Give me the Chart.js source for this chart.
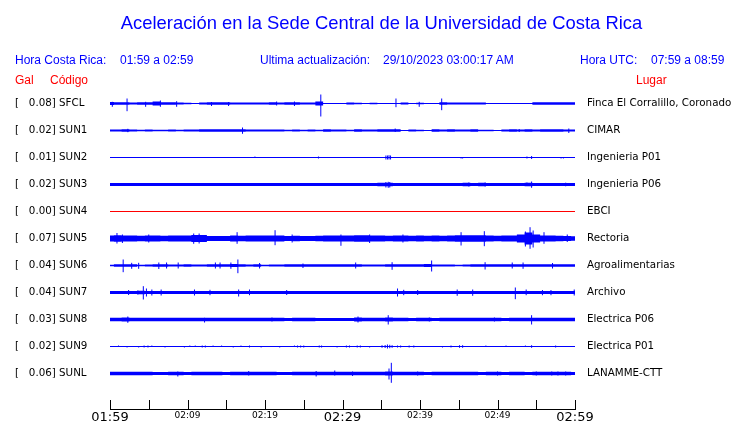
<!DOCTYPE html>
<html>
<head>
<meta charset="utf-8">
<script src="https://cdn.jsdelivr.net/npm/chart.js@4.4.0/dist/chart.umd.min.js"></script>
<style>
  body { margin: 0; background: #fff; }
  #wrap { position: relative; width: 740px; height: 423px; }
  #wrap canvas { position: absolute; left: 0; top: 0; }
  .t { position: absolute; white-space: pre; font-family: "Liberation Sans", Arial, sans-serif; line-height: 1; }
  .hdr { font-size: 12px; color: #0000ff; top: 54px; }
  .red { font-size: 12px; color: #ff0000; top: 74px; }
  #title { font-size: 18.4px; color: #0000ff; top: 13.7px; left: 0; width: 763px; text-align: center; }
</style>
</head>
<body>
<div id="wrap">
  <canvas id="seis" width="740" height="423"></canvas>
  <div class="t" id="title">Aceleración en la Sede Central de la Universidad de Costa Rica</div>
  <div class="t hdr" style="left:15px">Hora Costa Rica:</div>
  <div class="t hdr" style="left:120px">01:59 a 02:59</div>
  <div class="t hdr" style="left:260px">Ultima actualización:</div>
  <div class="t hdr" style="left:383px">29/10/2023 03:00:17 AM</div>
  <div class="t hdr" style="left:580px">Hora UTC:</div>
  <div class="t hdr" style="left:651px">07:59 a 08:59</div>
  <div class="t red" style="left:15px">Gal</div>
  <div class="t red" style="left:50px">Código</div>
  <div class="t red" style="left:636px">Lugar</div>
</div>
<script>
// stations, top to bottom
const CODES = ['SFCL','SUN1','SUN2','SUN3','SUN4','SUN5','SUN6','SUN7','SUN8','SUN9','SUNL'];
const GAL = [0.08,0.02,0.01,0.02,0.00,0.07,0.04,0.04,0.03,0.02,0.06];
const PLACES = ['Finca El Corralillo, Coronado','CIMAR','Ingenieria P01','Ingenieria P06','EBCI','Rectoria',
  'Agroalimentarias','Archivo','Electrica P06','Electrica P01','LANAMME-CTT'];

// x axis: minutes after 01:59
const TICK_MINUTES = [0,10,20,30,40,50,60];
const TICK_LABELS = ['01:59','02:09','02:19','02:29','02:39','02:49','02:59'];
const BIG_LABELS = ['01:59','02:29','02:59'];

// half width of the noise band, one value per minute (0..60)
const SFCL_ENV = [1.5,1.3,1.2,1,1.2,1.3,2,1.3,1.2,1, 0.8,0.5,1,1.2,1.2,1.3,1,1,1,1, 1,1.2,1,1.3,1.2,1,1,2,0.5,0.5,
  0.5,1,0.8,0.5,0.7,0.5,0.5,0.5,1,0.5, 0.8,0.5,0.5,1.2,1,1,1,1,1,0.5, 0.3,0.3,0.3,0.3,0.5,1.2,1.2,1.2,1.2,1.2,1.2];
const SUN1_ENV = [1,1,1.3,1,0.8,1,0.8,0.8,1,0.8, 1,1,1.3,1.3,1.3,1.3,1.2,1.3,1,1, 1,1,1,0.8,1,0.8,1,0.8,1.2,1,
  1,0.8,1.2,1,1,1.2,1.2,1.2,0.5,1, 0.8,0.5,1.2,1,1.2,1,1,1.2,0.8,0.7, 0.4,1,1.2,1,1.2,1,1.2,1.3,1.2,1,1];
const SUN2_ENV = [0,0,0,0,0,0,0,0,0,0, 0,0,0,0,0,0,0,0,0,0, 0,0,0,0,0,0,0,0,0,0,
  0,0,0,0,0,0,0,0,0,0, 0,0,0,0,0,0,0,0,0,0, 0,0,0,0,0,0,0,0,0,0,0];
const SUN3_ENV = [1.6,1.6,1.6,1.6,1.6,1.6,1.6,1.6,1.5,1.6, 1.6,1.6,1.6,1.6,1.5,1.6,1.6,1.6,1.6,1.6, 1.6,1.6,1.6,1.6,1.6,1.6,1.6,1.6,1.6,1.6,
  1.6,1.6,1.6,1.6,1.6,1.7,1.8,1.6,1.5,1.6, 1.6,1.6,1.6,1.6,1.6,1.6,1.7,1.6,1.7,1.6, 1.6,1.6,1.6,1.6,1.7,1.6,1.6,1.6,1.6,1.6,1.6];
const SUN4_ENV = [0,0,0,0,0,0,0,0,0,0, 0,0,0,0,0,0,0,0,0,0, 0,0,0,0,0,0,0,0,0,0,
  0,0,0,0,0,0,0,0,0,0, 0,0,0,0,0,0,0,0,0,0, 0,0,0,0,0,0,0,0,0,0,0];
const SUN5_ENV = [3,3.3,3,3,2.8,3,3,2.8,3,3, 3,3.5,3.5,2.6,2.5,2.5,3,2.8,3,3, 3,3,3,2.5,2.8,2.6,2.6,2.8,3,3,
  3,3,3.3,3.2,3,3,2.8,3,3,2.8, 3,2.8,3,2.8,3,3.3,3.2,3.3,3.3,3, 2.8,3,3,4,6,4,3,3,2.8,2.5,2.2];
const SUN6_ENV = [0.8,1.2,1.2,1.2,0.8,1,1.2,1.2,1,1, 1.2,1,1,1.3,1.3,1.3,1.5,1.2,1,1.2, 0.8,1,1,1.3,1.3,1.3,1.3,1.2,1.2,1.2,
  1.2,1.2,1.2,1,1,1,1.3,1.2,1.2,1.2, 1.2,1.5,1,1,1,0.8,1,1.2,1.2,1.2, 1.2,1.2,1.2,1.2,1.2,1.2,1.2,1.2,1.2,1.3,1.3];
const SUN7_ENV = [1.5,1.5,1.6,1.5,1.7,1.6,1.5,1.5,1.4,1.4, 1.5,1.4,1.5,1.5,1.4,1.5,1.6,1.5,1.5,1.4, 1.4,1.4,1.5,1.4,1.4,1.4,1.4,1.4,1.4,1.4,
  1.4,1.4,1.4,1.4,1.4,1.4,1.5,1.6,1.5,1.5, 1.4,1.4,1.4,1.4,1.5,1.4,1.5,1.4,1.4,1.4, 1.4,1.4,1.5,1.5,1.4,1.4,1.6,1.5,1.4,1.4,1.5];
const SUN8_ENV = [1.7,1.8,2,1.8,1.7,1.8,1.7,1.7,1.7,1.8, 1.7,1.8,1.8,1.7,1.7,1.8,1.7,1.7,1.7,1.7, 1.7,1.7,1.7,1.6,1.8,1.7,1.8,1.6,1.5,1.5,
  1.5,1.6,1.9,1.8,1.7,1.8,2,1.7,1.7,1.6, 1.7,1.7,1.6,1.7,1.7,1.7,1.8,1.8,1.7,1.7, 1.7,1.6,1.7,1.7,1.8,1.8,1.7,1.7,1.7,1.7,1.7];
const SUN9_ENV = [0,0,0,0,0,0,0,0,0,0, 0,0,0,0,0,0,0,0,0,0, 0,0,0,0,0,0,0,0,0,0,
  0,0,0,0,0,0,0,0,0,0, 0,0,0,0,0,0,0,0,0,0, 0,0,0,0,0,0,0,0,0,0,0];
const SUNL_ENV = [1.7,1.7,1.7,1.7,1.7,1.7,1.6,1.6,1.7,1.8, 1.6,1.7,1.7,1.7,1.7,1.6,1.7,1.8,1.7,1.7, 1.7,1.7,1.6,1.6,1.7,1.7,1.7,1.7,1.7,1.7,
  1.7,1.8,1.7,1.7,1.7,1.7,2,1.7,1.7,1.7, 1.7,1.6,1.7,1.7,1.7,1.7,1.7,1.7,1.6,1.7, 1.7,1.6,1.7,1.7,1.6,1.7,1.7,1.7,1.7,1.7,1.6];

// single peaks: [minute, up, down]
const SFCL_PEAKS = [[0.3,1.7,3.3],[2.2,5,7.7],[4.6,1.7,3.3],[6.5,3,3.3],[8.6,2.3,3.3],[13.1,1.5,2.5],[15.3,1.5,2.5],
  [21.5,2,2],[23.8,2,2.5],[27.2,9,13],[36.9,5,3.7],[39.9,1.7,3.3],[42.8,5,6.7]];
const SUN1_PEAKS = [[2.3,1.7,1.7],[17.1,3,3.3],[36.8,2,1.5],[52.8,1.5,1.5],[59.2,2,2.5]];
const SUN2_PEAKS = [[18.7,1,0],[26.9,1,1],[35.6,2,2],[35.8,2,2],[36.0,2.3,2],[36.2,2,2],[45.3,0,1],[45.5,0,1],
  [53.8,1,1],[54.4,1.5,1.5],[58.2,0,1],[58.5,0,1]];
const SUN3_PEAKS = [[35.6,2.5,3],[35.9,2.7,3.3],[36.1,2.5,3],[46.3,2,2],[48.4,2,2],[53.8,2,1.5],[54.4,3,3.3],[58.8,1.8,1.8]];
const SUN4_PEAKS = [];
const SUN5_PEAKS = [[0.9,5.5,5],[1.6,4,4.5],[5,4,4],[10.8,5,5.3],[11.5,5,5],[16.4,6.3,5.3],[21.3,8.3,6.7],[23.5,4,4],
  [29.8,4,7.3],[33.5,4,4.5],[37.8,4,4],[45.3,6.3,7],[48.3,7.3,7.7],[53.6,7,8],[54.2,11.3,10.3],[54.6,8,9],[56,6.3,5.3],[59,4,3.5]];
const SUN6_PEAKS = [[1.7,6,6.7],[2.8,2.7,3.3],[3.7,2.7,3.3],[6.3,3,3.5],[7.3,3,3],[8.8,3,3],[13.6,3,3],[14.2,3,3],
  [15.6,3,3.3],[16.5,6,7.7],[19.3,2.5,3],[24.9,2,2.5],[31.7,3,3],[36.4,3.3,4.3],[41.5,5,6],[48.4,3.3,4],[51.9,3,3],
  [53.3,3,3.3],[57.1,2.5,3]];
const SUN7_PEAKS = [[2.4,2.5,2.5],[3.6,2,2],[4.3,6.3,7],[4.7,4,4],[5.4,3,3],[6.6,3,3],[10.9,3,3],[12.9,2.7,2.7],
  [16.6,3,4],[18,3,2.7],[22.8,2.5,2.5],[37.1,4,4],[37.9,2.7,2.7],[39.7,2.5,2.5],[44.8,3,3.3],[46.8,3,3.3],[52.3,5,6.7],
  [53.7,3,2.7],[55.8,2.5,2.7],[56.9,2.5,2.7],[59.9,3,3]];
const SUN8_PEAKS = [[2.3,3,3.3],[12.2,1.7,3],[20.9,2,2],[32,3,3],[35.9,4.3,5],[41.2,2,2],[49.6,2,2],[54.4,4.3,5]];
const SUN9_PEAKS = [[1.1,1,0],[2.2,0,1],[3.7,0,1],[4.4,1,1],[4.9,1,1],[5.4,1,0],[7.1,0,1],[9.6,0,1],[10.3,1,0],[11,1,0],
  [11.9,1,1],[12.3,1,1],[13.3,1,0],[14.4,1,0],[15.9,0,1],[16.9,1,0],[18,1,1],[19.5,0,1],[21.9,0,1],[23.8,1,0],
  [24.2,1,1],[24.6,1,1],[25,1,1],[27,1,1],[27.3,1,1],[29.3,0,1],[30.5,1,1],[30.9,1,1],[31.9,1,1],[32.3,1,1],[33.5,0,1],
  [35.1,1.3,1.3],[35.5,1.5,1.5],[35.8,2,2],[36.1,1.7,1.7],[36.4,1.3,1.3],[37.1,1,1],[37.5,1,1],[38.6,1,1],[39.2,1,1],
  [42.9,0,1],[44,1,1],[45.1,1.3,1.3],[45.5,1.3,1.3],[48.5,1,0],[51.1,1,0],[53.6,1,0],[54.4,1.3,1.3],[57.5,1,1]];
const SUNL_PEAKS = [[4.4,1.5,0],[8.75,2,3],[17.9,2.5,2],[26.6,2.5,3],[29,3,2],[31.3,2,2.5],[36,5,6],[36.3,10.7,9.3],
  [39.7,2,2],[50,2,2],[55,2,2],[57,2,2],[57.8,2,2],[58.8,2,2]];

const ENVS = [SFCL_ENV,SUN1_ENV,SUN2_ENV,SUN3_ENV,SUN4_ENV,SUN5_ENV,SUN6_ENV,SUN7_ENV,SUN8_ENV,SUN9_ENV,SUNL_ENV];
const PEAKS = [SFCL_PEAKS,SUN1_PEAKS,SUN2_PEAKS,SUN3_PEAKS,SUN4_PEAKS,SUN5_PEAKS,SUN6_PEAKS,SUN7_PEAKS,SUN8_PEAKS,SUN9_PEAKS,SUNL_PEAKS];

const TRACE_GAP = 27;
const BLUE = '#0000ff', RED = '#ff0000';
const N = CODES.length;
const baseOf = i => (N - 1 - i) * TRACE_GAP;

const datasets = [];
CODES.forEach((code, i) => {
  const base = baseOf(i);
  const color = code === 'SUN4' ? RED : BLUE;
  const env = ENVS[i];
  datasets.push({ data: env.map((a, k) => ({x: k, y: base + a})), stepped: 'middle',
    borderColor: 'transparent', backgroundColor: color, fill: '+1' });
  datasets.push({ data: env.map((a, k) => ({x: k, y: base - a})), stepped: 'middle',
    borderColor: 'transparent', fill: false });
  datasets.push({ data: [{x: 0, y: base}, {x: 60, y: base}], borderColor: color, borderWidth: 1, fill: false });
  const pk = [];
  PEAKS[i].forEach(([t, up, dn]) => { pk.push({x: t, y: base - dn}, {x: t, y: base + up}, {x: t, y: null}); });
  datasets.push({ data: pk, borderColor: color, borderWidth: 1, fill: false, spanGaps: false });
});

const rowTicks = scale => { scale.ticks = CODES.map((c, i) => ({value: baseOf(i)})); };
const rowIndex = v => CODES.findIndex((c, i) => baseOf(i) === v);
// keep label overhang from shrinking the plot
const noPad = s => { s.paddingTop = 0; s.paddingBottom = 0; s.paddingLeft = 0; s.paddingRight = 0; };

// upward tick marks on the time axis
const innerTicks = {
  id: 'innerTicks',
  afterDraw(chart) {
    const xs = chart.scales.x, ctx = chart.ctx, b = chart.chartArea.bottom;
    ctx.save();
    ctx.strokeStyle = '#000';
    ctx.lineWidth = 1;
    ctx.beginPath();
    xs.ticks.forEach(t => {
      const px = Math.round(xs.getPixelForValue(t.value)) + 0.5;
      ctx.moveTo(px, b);
      ctx.lineTo(px, b - 9);
    });
    ctx.stroke();
    ctx.restore();
  }
};

new Chart(document.getElementById('seis'), {
  type: 'line',
  data: { datasets },
  plugins: [innerTicks],
  options: {
    responsive: false,
    animation: false,
    devicePixelRatio: 1,
    layout: { padding: { left: 15, top: 76, right: 0, bottom: 0 } },
    elements: { point: { radius: 0 }, line: { tension: 0 } },
    plugins: { legend: { display: false }, tooltip: { enabled: false } },
    scales: {
      x: {
        type: 'linear', min: 0, max: 60,
        grid: { display: false, drawTicks: false },
        border: { display: true, color: '#000', width: 1 },
        afterFit: s => { s.height = 14; noPad(s); },
        ticks: {
          stepSize: 5, autoSkip: false, maxRotation: 0, padding: 1, color: '#000',
          callback: v => { const k = TICK_MINUTES.indexOf(v); return k >= 0 ? TICK_LABELS[k] : ''; },
          font: c => {
            const k = TICK_MINUTES.indexOf(c.tick ? c.tick.value : -1);
            const big = k >= 0 && BIG_LABELS.includes(TICK_LABELS[k]);
            return { family: 'DejaVu Sans', size: big ? 13 : 9 };
          }
        }
      },
      y: {
        type: 'linear', position: 'left', min: -35.5, max: 297.5,
        grid: { display: false, drawTicks: false }, border: { display: false },
        afterFit: s => { s.width = 95; noPad(s); },
        afterBuildTicks: rowTicks,
        ticks: {
          crossAlign: 'far', padding: 0, color: '#000', font: { family: 'DejaVu Sans', size: 10.3 },
          callback: v => { const i = rowIndex(v); return i >= 0 ? '[   ' + GAL[i].toFixed(2) + '] ' + CODES[i] : ''; }
        }
      },
      y2: {
        type: 'linear', position: 'right', min: -35.5, max: 297.5,
        grid: { display: false, drawTicks: false }, border: { display: false },
        afterFit: s => { s.width = 165; noPad(s); },
        afterBuildTicks: rowTicks,
        ticks: {
          crossAlign: 'near', padding: 12, color: '#000', font: { family: 'DejaVu Sans', size: 10.3 },
          callback: v => { const i = rowIndex(v); return i >= 0 ? PLACES[i] : ''; }
        }
      }
    }
  }
});
</script>
</body>
</html>
